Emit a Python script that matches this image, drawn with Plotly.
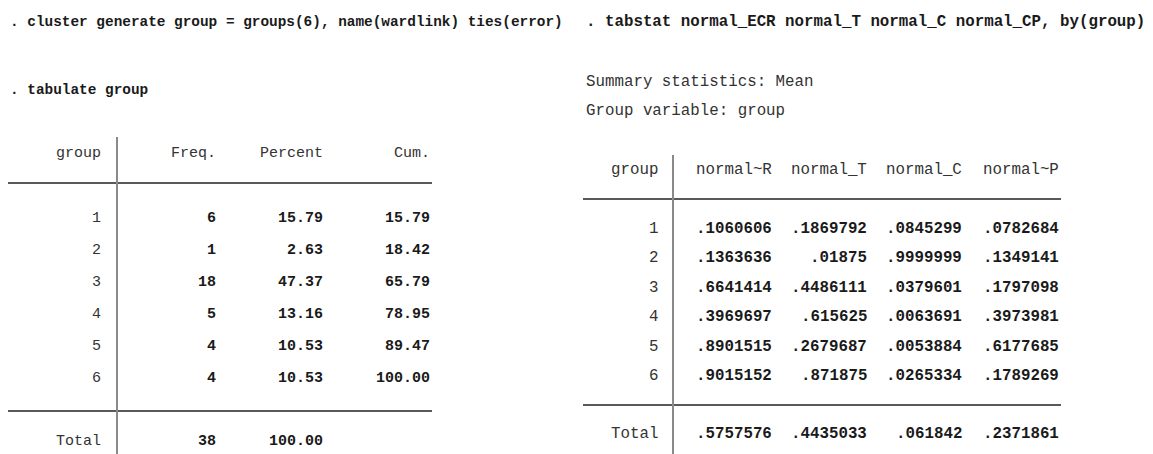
import plotly.graph_objects as go

# ---------------- data ----------------
cmd_left = ". cluster generate group = groups(6), name(wardlink) ties(error)"
cmd_tab = ". tabulate group"
cmd_right = ". tabstat normal_ECR normal_T normal_C normal_CP, by(group)"
summary_lines = ["Summary statistics: Mean", "Group variable: group"]

tab_headers = ["group", "Freq.", "Percent", "Cum."]
groups = ["1", "2", "3", "4", "5", "6"]
freq = ["6", "1", "18", "5", "4", "4"]
percent = ["15.79", "2.63", "47.37", "13.16", "10.53", "10.53"]
cum = ["15.79", "18.42", "65.79", "78.95", "89.47", "100.00"]
tab_total = ["Total", "38", "100.00", ""]

stat_headers = ["group", "normal~R", "normal_T", "normal_C", "normal~P"]
normal_ECR = [".1060606", ".1363636", ".6641414", ".3969697", ".8901515", ".9015152"]
normal_T = [".1869792", ".01875", ".4486111", ".615625", ".2679687", ".871875"]
normal_C = [".0845299", ".9999999", ".0379601", ".0063691", ".0053884", ".0265334"]
normal_CP = [".0782684", ".1349141", ".1797098", ".3973981", ".6177685", ".1789269"]
stat_total = ["Total", ".5757576", ".4435033", ".061842", ".2371861"]

# ---------------- layout (positions / styles) ----------------
W, H = 1153, 454
OFF = 8  # page body margin of the html page
FONT = "Liberation Mono"
TXT = "#1a1a1a"
HDR = "#333333"

fig = go.Figure()
fig.update_layout(
    width=W, height=H, margin=dict(l=0, r=0, t=0, b=0),
    paper_bgcolor="white", plot_bgcolor="white", showlegend=False,
    xaxis=dict(range=[OFF, W + OFF], visible=False, fixedrange=True),
    yaxis=dict(range=[H + OFF, OFF], visible=False, fixedrange=True),
)


def txt(x, y, s, size, bold=False, anchor="right", color=TXT):
    fig.add_annotation(
        x=x, y=y, xref="x", yref="y", text=s, showarrow=False,
        xanchor=anchor, yanchor="middle",
        font=dict(family=FONT, size=size, color=color,
                  weight="bold" if bold else "normal"),
    )


# commands
txt(8, 22, cmd_left, 14.4, bold=True, anchor="left")
txt(584, 22, cmd_right, 15.8, bold=True, anchor="left")
txt(8, 90, cmd_tab, 14.4, bold=True, anchor="left")
for i, s in enumerate(summary_lines):
    txt(584, 82 + 29 * i, s, 15.8, anchor="left", color=HDR)

# ---- left table: tabulate ----
L_SIZE = 15
l_cols = [103, 218, 325, 432]
l_head_y = 153
l_row_y0, l_row_dy = 218, 32
l_total_y = 441
for cx, h in zip(l_cols, tab_headers):
    txt(cx, l_head_y, h, L_SIZE, color=HDR)
for i in range(len(groups)):
    y = l_row_y0 + l_row_dy * i
    txt(l_cols[0], y, groups[i], L_SIZE, color=HDR)
    for cx, col in zip(l_cols[1:], [freq, percent, cum]):
        txt(cx, y, col[i], L_SIZE, bold=True)
txt(l_cols[0], l_total_y, tab_total[0], L_SIZE, color=HDR)
for cx, s in zip(l_cols[1:], tab_total[1:]):
    if s:
        txt(cx, l_total_y, s, L_SIZE, bold=True)

fig.add_shape(type="line", x0=7, x1=432, y0=183, y1=183,
              line=dict(color="#222222", width=1.6))
fig.add_shape(type="line", x0=7, x1=432, y0=411, y1=411,
              line=dict(color="#222222", width=1.6))
fig.add_shape(type="line", x0=117, x1=117, y0=137, y1=H + OFF,
              line=dict(color="#8a8a8a", width=2))

# ---- right table: tabstat ----
R_SIZE = 15.8
r_cols = [660, 774, 869, 964, 1061]
r_head_y = 170
r_row_y0, r_row_dy = 229, 29.4
r_total_y = 434
for cx, h in zip(r_cols, stat_headers):
    txt(cx, r_head_y, h, R_SIZE, color=HDR)
for i in range(len(groups)):
    y = r_row_y0 + r_row_dy * i
    txt(r_cols[0], y, groups[i], R_SIZE, color=HDR)
    for cx, col in zip(r_cols[1:], [normal_ECR, normal_T, normal_C, normal_CP]):
        txt(cx, y, col[i], R_SIZE, bold=True)
txt(r_cols[0], r_total_y, stat_total[0], R_SIZE, color=HDR)
for cx, s in zip(r_cols[1:], stat_total[1:]):
    txt(cx, r_total_y, s, R_SIZE, bold=True)

fig.add_shape(type="line", x0=583, x1=1061, y0=199, y1=199,
              line=dict(color="#222222", width=1.6))
fig.add_shape(type="line", x0=583, x1=1061, y0=405, y1=405,
              line=dict(color="#222222", width=1.6))
fig.add_shape(type="line", x0=673, x1=673, y0=155, y1=H + OFF,
              line=dict(color="#8a8a8a", width=2))

fig.write_html("out.html")
